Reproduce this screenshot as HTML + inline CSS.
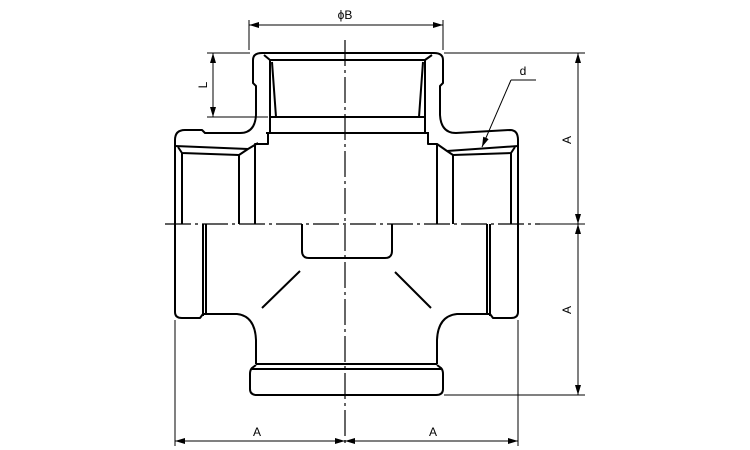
<!DOCTYPE html>
<html><head><meta charset="utf-8"><style>
html,body{margin:0;padding:0;background:#fff;}
svg{display:block;}
text{font-family:"Liberation Sans",sans-serif;font-size:12px;fill:#000;}
</style></head><body>
<svg width="750" height="450" viewBox="0 0 750 450" xmlns="http://www.w3.org/2000/svg">
<defs>
<marker id="ar" viewBox="0 0 10 6" refX="10" refY="3" markerWidth="10" markerHeight="6" orient="auto-start-reverse" markerUnits="userSpaceOnUse"><path d="M0,0 L10,3 L0,6 z" fill="#000"/></marker>
</defs>
<g fill="none" stroke="#000" stroke-width="2" stroke-linejoin="round">
<!-- top outer contour -->
<path d="M175,224 L175,140 Q175,130 185,130 L202,130 L205,133 L240,133 Q255,133 256,115 L256,86 L253,83 L253,60 Q253,53 262,53 L434,53 Q443,53 443,60 L443,83 L440,86 L440,115 Q441,133 456,133 L510,130 Q518,130 518,140 L518,224"/>
<!-- top inner -->
<path d="M270,60 L425,60"/>
<path d="M264,55 L270,60 L270,133 M432,55 L425,60 L425,133"/>
<path d="M272,62 L276,117 M423,62 L419,117"/>
<path d="M270,117 L425,117"/>
<path d="M266,133 L429,133"/>
<path d="M268,133 L268,144 L255,144 L255,224 M428,133 L428,144 L437,144 L437,224"/>
<!-- left branch threads -->
<path d="M175,146 L248,149 L258,143"/>
<path d="M178,147 L182,153 L239,155 L248,149"/>
<path d="M182,153 L182,224 M239,155 L239,224"/>
<!-- right branch threads -->
<path d="M518,146 L447,151 L437,144"/>
<path d="M515,147 L511,153 L453,155 L447,151"/>
<path d="M511,153 L511,224 M453,155 L453,224"/>
<!-- lower body -->
<path d="M175,224 L175,312 Q175,318 182,318 L200,318 L203,314 L237,314 Q255,316 256,340 L256,364"/>
<path d="M518,224 L518,312 Q518,318 511,318 L493,318 L490,314 L457,314 Q438,316 437,340 L437,364"/>
<path d="M203,224 L203,316 M206,224 L206,314 M490,224 L490,316 M487,224 L487,314"/>
<path d="M302,224 L302,251 Q302,258 309,258 L385,258 Q392,258 392,251 L392,224"/>
<path d="M300,271 L262,308 M395,272 L431,308"/>
<path d="M256,364 L437,364 M252,369 L441,369"/>
<path d="M256,365 L252,368 Q250,370 250,374 L250,389 Q250,395 257,395 L436,395 Q443,395 443,389 L443,374 Q443,370 441,368 L437,365"/>
</g>
<!-- centerlines -->
<g stroke="#000" stroke-width="1.2" stroke-dasharray="26,4,3,4" fill="none">
<path d="M345,40 L345,445"/>
<path d="M165,224 L540,224"/>
</g>
<!-- dimension lines -->
<g stroke="#000" stroke-width="1" fill="none">
<path d="M249,20 L249,50 M443,20 L443,50"/>
<path d="M249,25 L443,25" marker-start="url(#ar)" marker-end="url(#ar)"/>
<path d="M207,53 L250,53 M207,117 L268,117"/>
<path d="M213,53 L213,117" marker-start="url(#ar)" marker-end="url(#ar)"/>
<path d="M444,53 L585,53 M444,395 L585,395 M540,224 L585,224"/>
<path d="M578,53 L578,224" marker-start="url(#ar)" marker-end="url(#ar)"/>
<path d="M578,224 L578,395" marker-start="url(#ar)" marker-end="url(#ar)"/>
<path d="M175,320 L175,446 M518,320 L518,446"/>
<path d="M175,441 L345,441" marker-start="url(#ar)" marker-end="url(#ar)"/>
<path d="M345,441 L518,441" marker-start="url(#ar)" marker-end="url(#ar)"/>
<path d="M536,80 L511,80"/>
<path d="M511,80 L482,147" marker-end="url(#ar)"/>
</g>
<text x="345" y="19" text-anchor="middle">ϕB</text>
<text x="523" y="75" text-anchor="middle">d</text>
<text x="257" y="436" text-anchor="middle">A</text>
<text x="433" y="436" text-anchor="middle">A</text>
<text transform="translate(207,85) rotate(-90)" text-anchor="middle">L</text>
<text transform="translate(571,140) rotate(-90)" text-anchor="middle">A</text>
<text transform="translate(571,310) rotate(-90)" text-anchor="middle">A</text>
</svg>
</body></html>
